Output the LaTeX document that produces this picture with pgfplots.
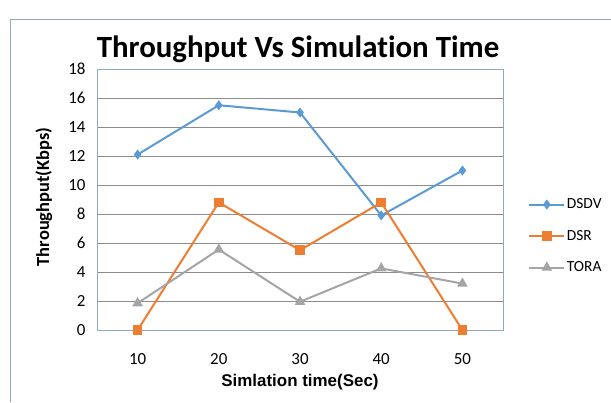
\documentclass[border=0pt]{standalone}
\usepackage{pgfplots}
\pgfplotsset{compat=1.18}
\usepackage{fontspec}
\setmainfont{Carlito}[Ligatures=NoCommon]
\newfontfamily\arialfont{Liberation Sans}
\definecolor{cblue}{HTML}{5B9BD5}
\definecolor{corange}{HTML}{ED7D31}
\definecolor{cgray}{HTML}{A5A5A5}
\definecolor{gridc}{HTML}{8C8C8C}
\definecolor{framec}{HTML}{8FA8C0}
\begin{document}
\begin{tikzpicture}[x=1bp,y=1bp]
\path[use as bounding box] (0,0) rectangle (611,402);
\draw[framec,line width=0.8bp] (10,0) -- (10,383) -- (611,383);
\node[font=\fontsize{31}{34}\selectfont\bfseries] at (298,353) {Throughput Vs Simulation Time};
\begin{axis}[
  at={(97bp,72bp)}, anchor=south west,
  scale only axis, width=406bp, height=261bp,
  xmin=5, xmax=55, ymin=0, ymax=18,
  xtick={10,20,30,40,50}, ytick={0,2,...,18},
  major tick length=0pt,
  ymajorgrids, major grid style={gridc, line width=0.7bp},
  axis line style={framec, line width=0.7bp},
  tick label style={font=\fontsize{17}{19}\selectfont},
  /pgf/number format/assume math mode=true,
  xticklabel style={yshift=-20bp},
  yticklabel style={xshift=-8bp},
  xlabel={\arialfont\bfseries Simlation time(Sec)},
  xlabel style={font=\fontsize{17}{19}\selectfont, yshift=-3bp},
  ylabel={\bfseries Throughput(Kbps)},
  every axis y label/.style={at={(axis description cs:-0.131,0.51)}, rotate=90, anchor=center},
  ylabel style={font=\fontsize{18.5}{20}\selectfont},
  legend style={at={(1.062,0.36)}, anchor=west, draw=none, fill=none,
    font=\fontsize{15.5}{17}\selectfont, row sep=17bp, inner sep=0pt,
    nodes={inner sep=1.5bp},
    legend cell align=left},
  legend image code/.code={\draw[#1] (0bp,0bp) -- (35bp,0bp); \draw[#1, mark repeat=1] plot coordinates {(17.5bp,0bp)};},
  every axis plot/.append style={line width=2bp},
]
\addplot[cblue, mark=diamond*, mark size=3.4bp, mark options={solid}] coordinates {(10,12.1) (20,15.5) (30,15.0) (40,7.9) (50,11.0)};
\addlegendentry{DSDV}
\addplot[corange, mark=square*, mark size=3.8bp] coordinates {(10,0) (20,8.8) (30,5.5) (40,8.8) (50,0)};
\addlegendentry{DSR}
\addplot[cgray, mark=triangle*, mark size=4.2bp] coordinates {(10,1.85) (20,5.55) (30,1.95) (40,4.25) (50,3.2)};
\addlegendentry{TORA}
\end{axis}
\end{tikzpicture}
\end{document}
